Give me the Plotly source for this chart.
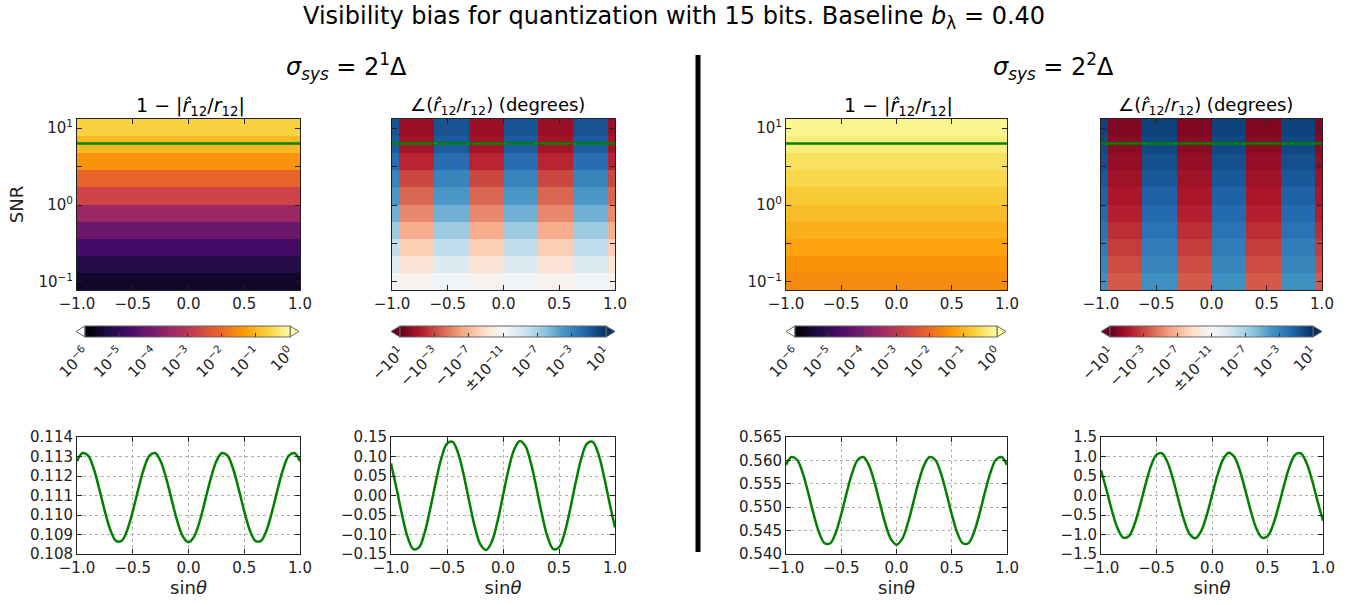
import numpy as np
import plotly.graph_objects as go

W, H = 1347, 605
FONT = "DejaVu Sans"
TXT = "#222222"

# ---------------- data ----------------
snr_edges = [0.0787, 0.1312, 0.2188, 0.3648, 0.6081, 1.014, 1.694, 2.825, 4.710, 7.852, 13.09]
snr_line = 6.3
snr_tickvals = [0.1, 1, 10]
snr_ticktext = ["10<sup>−1</sup>", "10<sup>0</sup>", "10<sup>1</sup>"]
snr_minor_ticks = [0.316, 3.16]

sin_edges_amp = [-1.0, 1.0]
sin_edges_phase = [-1.0, -0.9375, -0.625, -0.3125, 0.0, 0.3125, 0.625, 0.9375, 1.0]

# 1 - |r12_hat / r12| per SNR row (bottom -> top)
amp_bias_s1 = [[2.6e-6], [6.0e-6], [1.8e-5], [6.3e-5], [3.3e-4], [2.0e-3], [7.9e-3], [3.6e-2], [0.11], [0.22]]
amp_bias_s2 = [[0.028], [0.038], [0.056], [0.083], [0.12], [0.178], [0.26], [0.355], [0.54], [0.71]]

# phase (degrees), rows bottom -> top, columns between sin_edges_phase
phase_bias_s1 = [
    [2.5e-11, -2.5e-11, 2.5e-11, -2.5e-11, 2.5e-11, -2.5e-11, 2.5e-11, -2.5e-11],
    [5.0e-10, -5.0e-10, 5.0e-10, -5.0e-10, 5.0e-10, -5.0e-10, 5.0e-10, -5.0e-10],
    [1.0e-8, -1.0e-8, 1.0e-8, -1.0e-8, 1.0e-8, -1.0e-8, 1.0e-8, -1.0e-8],
    [2.5e-7, -2.5e-7, 2.5e-7, -2.5e-7, 2.5e-7, -2.5e-7, 2.5e-7, -2.5e-7],
    [6.3e-6, -6.3e-6, 6.3e-6, -6.3e-6, 6.3e-6, -6.3e-6, 6.3e-6, -6.3e-6],
    [1.0e-4, -1.0e-4, 1.0e-4, -1.0e-4, 1.0e-4, -1.0e-4, 1.0e-4, -1.0e-4],
    [1.0e-3, -1.0e-3, 1.0e-3, -1.0e-3, 1.0e-3, -1.0e-3, 1.0e-3, -1.0e-3],
    [1.6e-2, -1.6e-2, 1.6e-2, -1.6e-2, 1.6e-2, -1.6e-2, 1.6e-2, -1.6e-2],
    [0.11, -0.11, 0.11, -0.11, 0.11, -0.11, 0.11, -0.11],
    [0.25, -0.25, 0.25, -0.25, 0.25, -0.25, 0.25, -0.25],
]
phase_bias_s2 = [
    [2.5e-4, -2.5e-4, 2.5e-4, -2.5e-4, 2.5e-4, -2.5e-4, 2.5e-4, -2.5e-4],
    [7.9e-4, -7.9e-4, 7.9e-4, -7.9e-4, 7.9e-4, -7.9e-4, 7.9e-4, -7.9e-4],
    [2.5e-3, -2.5e-3, 2.5e-3, -2.5e-3, 2.5e-3, -2.5e-3, 2.5e-3, -2.5e-3],
    [7.9e-3, -7.9e-3, 7.9e-3, -7.9e-3, 7.9e-3, -7.9e-3, 7.9e-3, -7.9e-3],
    [2.5e-2, -2.5e-2, 2.5e-2, -2.5e-2, 2.5e-2, -2.5e-2, 2.5e-2, -2.5e-2],
    [6.3e-2, -6.3e-2, 6.3e-2, -6.3e-2, 6.3e-2, -6.3e-2, 6.3e-2, -6.3e-2],
    [0.16, -0.16, 0.16, -0.16, 0.16, -0.16, 0.16, -0.16],
    [0.40, -0.40, 0.40, -0.40, 0.40, -0.40, 0.40, -0.40],
    [0.89, -0.89, 0.89, -0.89, 0.89, -0.89, 0.89, -0.89],
    [1.6, -1.6, 1.6, -1.6, 1.6, -1.6, 1.6, -1.6],
]

sin_theta = [-1.00, -0.95, -0.90, -0.85, -0.80, -0.75, -0.70, -0.65, -0.60, -0.55,
             -0.50, -0.45, -0.40, -0.35, -0.30, -0.25, -0.20, -0.15, -0.10, -0.05,
             0.00, 0.05, 0.10, 0.15, 0.20, 0.25, 0.30, 0.35, 0.40, 0.45,
             0.50, 0.55, 0.60, 0.65, 0.70, 0.75, 0.80, 0.85, 0.90, 0.95, 1.00]

amp_line_s1 = [0.11276, 0.11318, 0.11304, 0.11237, 0.11133, 0.11019, 0.10922, 0.10867, 0.10867, 0.10922,
               0.11019, 0.11133, 0.11237, 0.11304, 0.11318, 0.11276, 0.11188, 0.11076, 0.10967, 0.10889,
               0.10860, 0.10889, 0.10967, 0.11076, 0.11188, 0.11276, 0.11318, 0.11304, 0.11237, 0.11133,
               0.11019, 0.10922, 0.10867, 0.10867, 0.10922, 0.11019, 0.11133, 0.11237, 0.11304, 0.11318, 0.11276]
phase_line_s1 = [0.0823, 0.0175, -0.0515, -0.1079, -0.1375, -0.1332, -0.0958, -0.0348, 0.0348, 0.0958,
                 0.1332, 0.1375, 0.1079, 0.0515, -0.0175, -0.0823, -0.1267, -0.1397, -0.1182, -0.0675,
                 0.0, 0.0675, 0.1182, 0.1397, 0.1267, 0.0823, 0.0175, -0.0515, -0.1079, -0.1375,
                 -0.1332, -0.0958, -0.0348, 0.0348, 0.0958, 0.1332, 0.1375, 0.1079, 0.0515, -0.0175, -0.0823]
amp_line_s2 = [0.55900, 0.56073, 0.56014, 0.55739, 0.55316, 0.54850, 0.54455, 0.54230, 0.54230, 0.54455,
               0.54850, 0.55316, 0.55739, 0.56014, 0.56073, 0.55900, 0.55540, 0.55081, 0.54636, 0.54317,
               0.54200, 0.54317, 0.54636, 0.55081, 0.55540, 0.55900, 0.56073, 0.56014, 0.55739, 0.55316,
               0.54850, 0.54455, 0.54230, 0.54230, 0.54455, 0.54850, 0.55316, 0.55739, 0.56014, 0.56073, 0.55900]
phase_line_s2 = [0.647, 0.138, -0.405, -0.848, -1.081, -1.046, -0.753, -0.274, 0.274, 0.753,
                 1.046, 1.081, 0.848, 0.405, -0.138, -0.647, -0.995, -1.098, -0.929, -0.530,
                 0.0, 0.530, 0.929, 1.098, 0.995, 0.647, 0.138, -0.405, -0.848, -1.081,
                 -1.046, -0.753, -0.274, 0.274, 0.753, 1.046, 1.081, 0.848, 0.405, -0.138, -0.647]

amp_cb_vals = [-6, -5, -4, -3, -2, -1, 0]
amp_cb_text = ["10<sup>−6</sup>", "10<sup>−5</sup>", "10<sup>−4</sup>", "10<sup>−3</sup>",
               "10<sup>−2</sup>", "10<sup>−1</sup>", "10<sup>0</sup>"]
ph_cb_vals = [-1, -2 / 3, -1 / 3, 0, 1 / 3, 2 / 3, 1]
ph_cb_text = ["−10<sup>1</sup>", "−10<sup>−3</sup>", "−10<sup>−7</sup>", "±10<sup>−11</sup>",
              "10<sup>−7</sup>", "10<sup>−3</sup>", "10<sup>1</sup>"]

INFERNO = ['#000004', '#1b0c41', '#4a0c6b', '#781c6d', '#a52c60',
           '#cf4446', '#ed6925', '#fb9b06', '#f7d13d', '#fcffa4']
RDBU = ['rgb(103,0,31)', 'rgb(178,24,43)', 'rgb(214,96,77)', 'rgb(244,165,130)', 'rgb(253,219,199)',
        'rgb(247,247,247)', 'rgb(209,229,240)', 'rgb(146,197,222)', 'rgb(67,147,195)',
        'rgb(33,102,172)', 'rgb(5,48,97)']


def cscale(cols):
    n = len(cols) - 1
    return [[i / n, c] for i, c in enumerate(cols)]


def amp_to_c(z):
    return np.log10(np.array(z, dtype=float))


def phase_to_c(z):
    a = np.array(z, dtype=float)
    mag = np.clip((np.log10(np.abs(a)) + 11) / 12, 0, 1)
    return np.sign(a) * mag


# ---------------- layout geometry (pixels) ----------------
heat_x = [(77, 300), (392, 615), (786, 1007), (1101, 1322)]
heat_y = (119, 290)
line_x = [(77, 300), (391, 615), (786, 1007), (1101, 1323)]
line_y = (437, 554)
cb_rect = [(85, 290), (400, 606), (795, 997), (1110, 1313)]
cb_y = (326, 337)
TRI = 9


def fx(p):
    return p / W


def fy(p):
    return 1 - p / H


fig = go.Figure()

heat_specs = [
    (amp_bias_s1, sin_edges_amp, "amp"),
    (phase_bias_s1, sin_edges_phase, "phase"),
    (amp_bias_s2, sin_edges_amp, "amp"),
    (phase_bias_s2, sin_edges_phase, "phase"),
]

shapes = []
for i, (z, xe, kind) in enumerate(heat_specs):
    ax = "" if i == 0 else str(i + 1)
    c0, c1 = cb_rect[i]
    cb = dict(orientation="h", x=fx((c0 + c1) / 2), xanchor="center",
              y=fy(cb_y[0]), yanchor="top", len=c1 - c0, lenmode="pixels",
              thickness=cb_y[1] - cb_y[0], xpad=0, ypad=0,
              outlinewidth=1, outlinecolor="#666666",
              ticks="inside", ticklen=4, tickcolor="#333333", tickangle=-45,
              tickfont=dict(family=FONT, size=15, color=TXT))
    if kind == "amp":
        zc = amp_to_c(z)
        cb.update(tickvals=amp_cb_vals, ticktext=amp_cb_text)
        fig.add_trace(go.Heatmap(z=zc, x=xe, y=snr_edges, zmin=-6, zmax=0,
                                 colorscale=cscale(INFERNO), colorbar=cb,
                                 xaxis="x" + ax, yaxis="y" + ax, hoverinfo="skip"))
        lc, rc = "#ffffff", INFERNO[-1]
    else:
        zc = phase_to_c(z)
        cb.update(tickvals=ph_cb_vals, ticktext=ph_cb_text)
        fig.add_trace(go.Heatmap(z=zc, x=xe, y=snr_edges, zmin=-1, zmax=1,
                                 colorscale=cscale(RDBU), colorbar=cb,
                                 xaxis="x" + ax, yaxis="y" + ax, hoverinfo="skip"))
        lc, rc = RDBU[0], RDBU[-1]
    ym = (cb_y[0] + cb_y[1]) / 2
    shapes.append(dict(type="path", xref="paper", yref="paper",
                       path=f"M {fx(c0)},{fy(cb_y[0])} L {fx(c0 - TRI)},{fy(ym)} L {fx(c0)},{fy(cb_y[1])} Z",
                       fillcolor=lc, line=dict(color="#666666", width=1)))
    shapes.append(dict(type="path", xref="paper", yref="paper",
                       path=f"M {fx(c1)},{fy(cb_y[0])} L {fx(c1 + TRI)},{fy(ym)} L {fx(c1)},{fy(cb_y[1])} Z",
                       fillcolor=rc, line=dict(color="#666666", width=1)))
    # green SNR line
    fig.add_trace(go.Scatter(x=[-1, 1], y=[snr_line, snr_line], mode="lines",
                             line=dict(color="#008000", width=2.5), showlegend=False,
                             xaxis="x" + ax, yaxis="y" + ax, hoverinfo="skip"))

line_series = [amp_line_s1, phase_line_s1, amp_line_s2, phase_line_s2]
for i, ys in enumerate(line_series):
    ax = str(i + 5)
    fig.add_trace(go.Scatter(x=sin_theta, y=ys, mode="lines", line=dict(color="#008000", width=2.5, shape="spline"),
                             showlegend=False, xaxis="x" + ax, yaxis="y" + ax, hoverinfo="skip"))

axc = dict(showline=True, linecolor="#222222", linewidth=1, mirror="ticks", ticks="inside",
           ticklen=5, tickcolor="#222222", zeroline=False, automargin=False,
           tickfont=dict(family=FONT, size=15, color=TXT))

lay = {}
for i in range(4):
    ax = "" if i == 0 else str(i + 1)
    lay["xaxis" + ax] = dict(axc, domain=[fx(heat_x[i][0]), fx(heat_x[i][1])], anchor="y" + ax,
                             range=[-1, 1], tickvals=[-1, -0.5, 0, 0.5, 1], tickformat=".1f",
                             showgrid=False)
    yd = dict(axc, domain=[fy(heat_y[1]), fy(heat_y[0])], anchor="x" + ax, type="log",
              range=[np.log10(snr_edges[0]), np.log10(snr_edges[-1])],
              tickvals=snr_tickvals, ticktext=snr_ticktext, showgrid=False,
              minor=dict(tickvals=snr_minor_ticks, ticks="inside", ticklen=5,
                         tickcolor="#222222", showgrid=False),
              showticklabels=(i % 2 == 0))
    if i == 0:
        yd["title"] = dict(text="SNR", font=dict(family=FONT, size=18, color=TXT), standoff=10)
    lay["yaxis" + ax] = yd

yfmt = [(0.108, 0.114, 0.001, ".3f"), (-0.15, 0.15, 0.05, ".2f"),
        (0.540, 0.565, 0.005, ".3f"), (-1.5, 1.5, 0.5, ".1f")]
for i in range(4):
    ax = str(i + 5)
    lo, hi, dt, fmt = yfmt[i]
    lay["xaxis" + ax] = dict(axc, domain=[fx(line_x[i][0]), fx(line_x[i][1])], anchor="y" + ax,
                             range=[-1, 1], tick0=-1, dtick=0.5, tickformat=".1f",
                             showgrid=True, gridcolor="#b0b0b0", griddash="dot", gridwidth=1,
                             title=dict(text="sin<i>θ</i>", font=dict(family=FONT, size=18, color=TXT),
                                        standoff=5))
    lay["yaxis" + ax] = dict(axc, domain=[fy(line_y[1]), fy(line_y[0])], anchor="x" + ax,
                             range=[lo, hi], tick0=lo, dtick=dt, tickformat=fmt,
                             showgrid=True, gridcolor="#b0b0b0", griddash="dot", gridwidth=1)

shapes.append(dict(type="line", xref="paper", yref="paper", x0=fx(698), x1=fx(698),
                   y0=fy(55), y1=fy(552), line=dict(color="black", width=5)))

hat_r = "<i>r̂</i><sub>12</sub>/<i>r</i><sub>12</sub>"
annots = [
    dict(text="Visibility bias for quantization with 15 bits. Baseline <i>b</i><sub>λ</sub> = 0.40",
         x=fx(674), y=fy(17), size=24),
    dict(text="<i>σ</i><sub><i>sys</i></sub> = 2<sup>1</sup>Δ", x=fx(346), y=fy(66), size=24),
    dict(text="<i>σ</i><sub><i>sys</i></sub> = 2<sup>2</sup>Δ", x=fx(1053), y=fy(66), size=24),
    dict(text="1 − |" + hat_r + "|", x=fx(190), y=fy(106), size=19),
    dict(text="∠(" + hat_r + ") (degrees)", x=fx(497), y=fy(106), size=18),
    dict(text="1 − |" + hat_r + "|", x=fx(898), y=fy(106), size=19),
    dict(text="∠(" + hat_r + ") (degrees)", x=fx(1205), y=fy(106), size=18),
]
annotations = [dict(text=a["text"], x=a["x"], y=a["y"], xref="paper", yref="paper",
                    showarrow=False, xanchor="center", yanchor="middle",
                    font=dict(family=FONT, size=a["size"], color="black")) for a in annots]

fig.update_layout(width=W, height=H, margin=dict(l=0, r=0, t=0, b=0), template="none",
                  paper_bgcolor="white", plot_bgcolor="white", showlegend=False,
                  font=dict(family=FONT, color=TXT), shapes=shapes, annotations=annotations, **lay)

fig.write_html("out.html")
